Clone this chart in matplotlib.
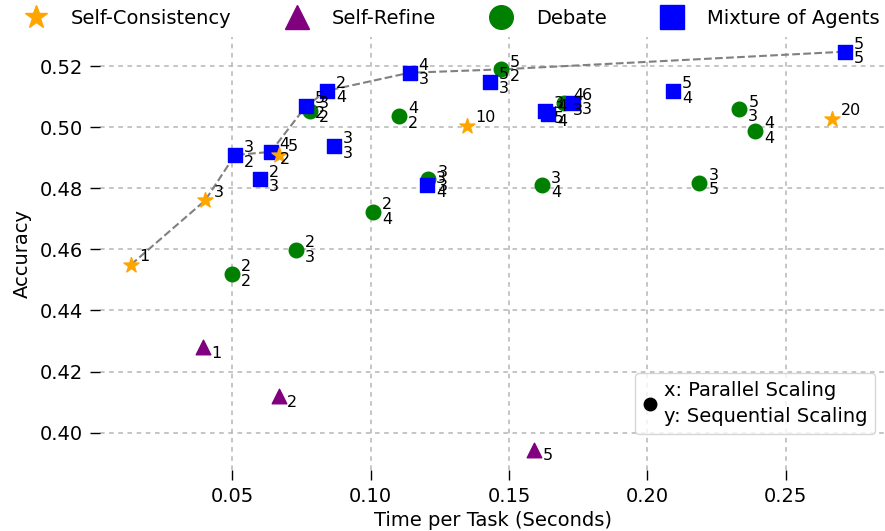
import matplotlib
matplotlib.use("Agg")
import matplotlib.pyplot as plt
from matplotlib.lines import Line2D

# ---- data ----
sc_time = [0.0133, 0.0401, 0.0668, 0.1347, 0.2669]
sc_acc = [0.455, 0.476, 0.491, 0.5004, 0.5027]
sc_n = [1, 3, 5, 10, 20]

sr_time = [0.0393, 0.0667, 0.159]
sr_acc = [0.4279, 0.412, 0.3945]
sr_n = [1, 2, 5]

deb_time = [0.0497, 0.073, 0.1008, 0.078, 0.1103, 0.1208, 0.147, 0.1618, 0.1699, 0.2188, 0.2332, 0.2389]
deb_acc = [0.4519, 0.4598, 0.4722, 0.5054, 0.5037, 0.4829, 0.5189, 0.481, 0.5079, 0.4818, 0.5058, 0.4988]
deb_par = [2, 2, 2, 3, 4, 3, 5, 3, 4, 3, 5, 4]
deb_seq = [2, 3, 4, 2, 2, 3, 2, 4, 3, 5, 3, 4]

moa_time = [0.0509, 0.0638, 0.060, 0.0766, 0.0841, 0.0868, 0.114, 0.1204, 0.1431, 0.163, 0.1642, 0.1732, 0.2092, 0.2715]
moa_acc = [0.4909, 0.4919, 0.4829, 0.5069, 0.5119, 0.4938, 0.5178, 0.481, 0.5149, 0.5053, 0.5043, 0.508, 0.5118, 0.5247]
moa_par = [3, 4, 2, 5, 2, 3, 4, 3, 5, 3, 4, 6, 5, 5]
moa_seq = [2, 2, 3, 2, 4, 3, 3, 4, 3, 5, 4, 3, 4, 5]

method_names = ["Self-Consistency", "Self-Refine", "Debate", "Mixture of Agents"]

# ---- figure ----
plt.rcParams['font.family'] = ['DejaVu Sans']
fig = plt.figure(figsize=(8.85, 5.31), dpi=100)
ax = fig.add_axes([100/885, 61/531, 785/885, 433/531])

FS = 14
AFS = 11.5

# Pareto frontier from all points
all_pts = list(zip(sc_time, sc_acc)) + list(zip(sr_time, sr_acc)) + \
    list(zip(deb_time, deb_acc)) + list(zip(moa_time, moa_acc))
all_pts.sort()
front = []
best = -1
for t, a in all_pts:
    if a > best:
        front.append((t, a))
        best = a
ax.plot([p[0] for p in front], [p[1] for p in front], '--', color='gray',
        lw=1.5, zorder=2)

ax.scatter(sr_time, sr_acc, marker='^', s=110, color='purple', zorder=3, label=method_names[1])
ax.scatter(deb_time, deb_acc, marker='o', s=110, color='green', zorder=3, label=method_names[2])
ax.scatter(moa_time, moa_acc, marker='s', s=100, color='blue', zorder=4, label=method_names[3])
ax.scatter(sc_time, sc_acc, marker='*', s=130, color='orange', zorder=5, label=method_names[0])

for t, a, n in zip(sc_time, sc_acc, sc_n):
    ax.annotate(str(n), (t, a), xytext=(6, 6), textcoords='offset points',
                fontsize=AFS, ha='left', va='center', zorder=6)
for t, a, n in zip(sr_time, sr_acc, sr_n):
    ax.annotate(str(n), (t, a), xytext=(6, -4.5), textcoords='offset points',
                fontsize=AFS, ha='left', va='center', zorder=6)
for t, a, p, q in zip(deb_time, deb_acc, deb_par, deb_seq):
    ax.annotate(f"{p}\n{q}", (t, a), xytext=(6.5, 0), textcoords='offset points',
                fontsize=AFS, ha='left', va='center', linespacing=0.95, zorder=6)
for t, a, p, q in zip(moa_time, moa_acc, moa_par, moa_seq):
    ax.annotate(f"{p}\n{q}", (t, a), xytext=(6.5, 0), textcoords='offset points',
                fontsize=AFS, ha='left', va='center', linespacing=0.95, zorder=6)

ax.set_xlim(0.0021, 0.2859)
ax.set_ylim(0.3878, 0.5295)
ax.set_xticks([0.05, 0.10, 0.15, 0.20, 0.25])
ax.set_yticks([0.40, 0.42, 0.44, 0.46, 0.48, 0.50, 0.52])
ax.set_xticklabels(["0.05", "0.10", "0.15", "0.20", "0.25"])
ax.set_yticklabels(["0.40", "0.42", "0.44", "0.46", "0.48", "0.50", "0.52"])
ax.tick_params(labelsize=FS, length=7, width=1, pad=5)
for sp in ax.spines.values():
    sp.set_visible(False)
ax.grid(True, linestyle=(0, (3, 3)), color='#b5b5b5', lw=1.1)
ax.set_axisbelow(True)
ax.set_xlabel("Time per Task (Seconds)", fontsize=FS, labelpad=4)
ax.set_ylabel("Accuracy", fontsize=FS, labelpad=6)

# top legend
handles = [
    Line2D([], [], marker='*', color='orange', ls='', markersize=17),
    Line2D([], [], marker='^', color='purple', ls='', markersize=17),
    Line2D([], [], marker='o', color='green', ls='', markersize=17),
    Line2D([], [], marker='s', color='blue', ls='', markersize=17),
]
fig.legend(handles, method_names, loc='center', bbox_to_anchor=(448/885, 1 - 18/531),
           ncol=4, frameon=False, fontsize=FS, handletextpad=0.8, columnspacing=2.35)

# annotation legend
h2 = [Line2D([], [], marker='o', color='black', ls='', markersize=9)]
leg2 = ax.legend(h2, ["x: Parallel Scaling\ny: Sequential Scaling"], loc='center',
                 bbox_to_anchor=(755/885, 1 - 403.5/531), bbox_transform=fig.transFigure,
                 fontsize=FS, handlelength=0.8, handletextpad=0.3, borderpad=0.4)
for txt in leg2.get_texts():
    txt.set_linespacing(1.5)

fig.savefig("out.png", dpi=100)
